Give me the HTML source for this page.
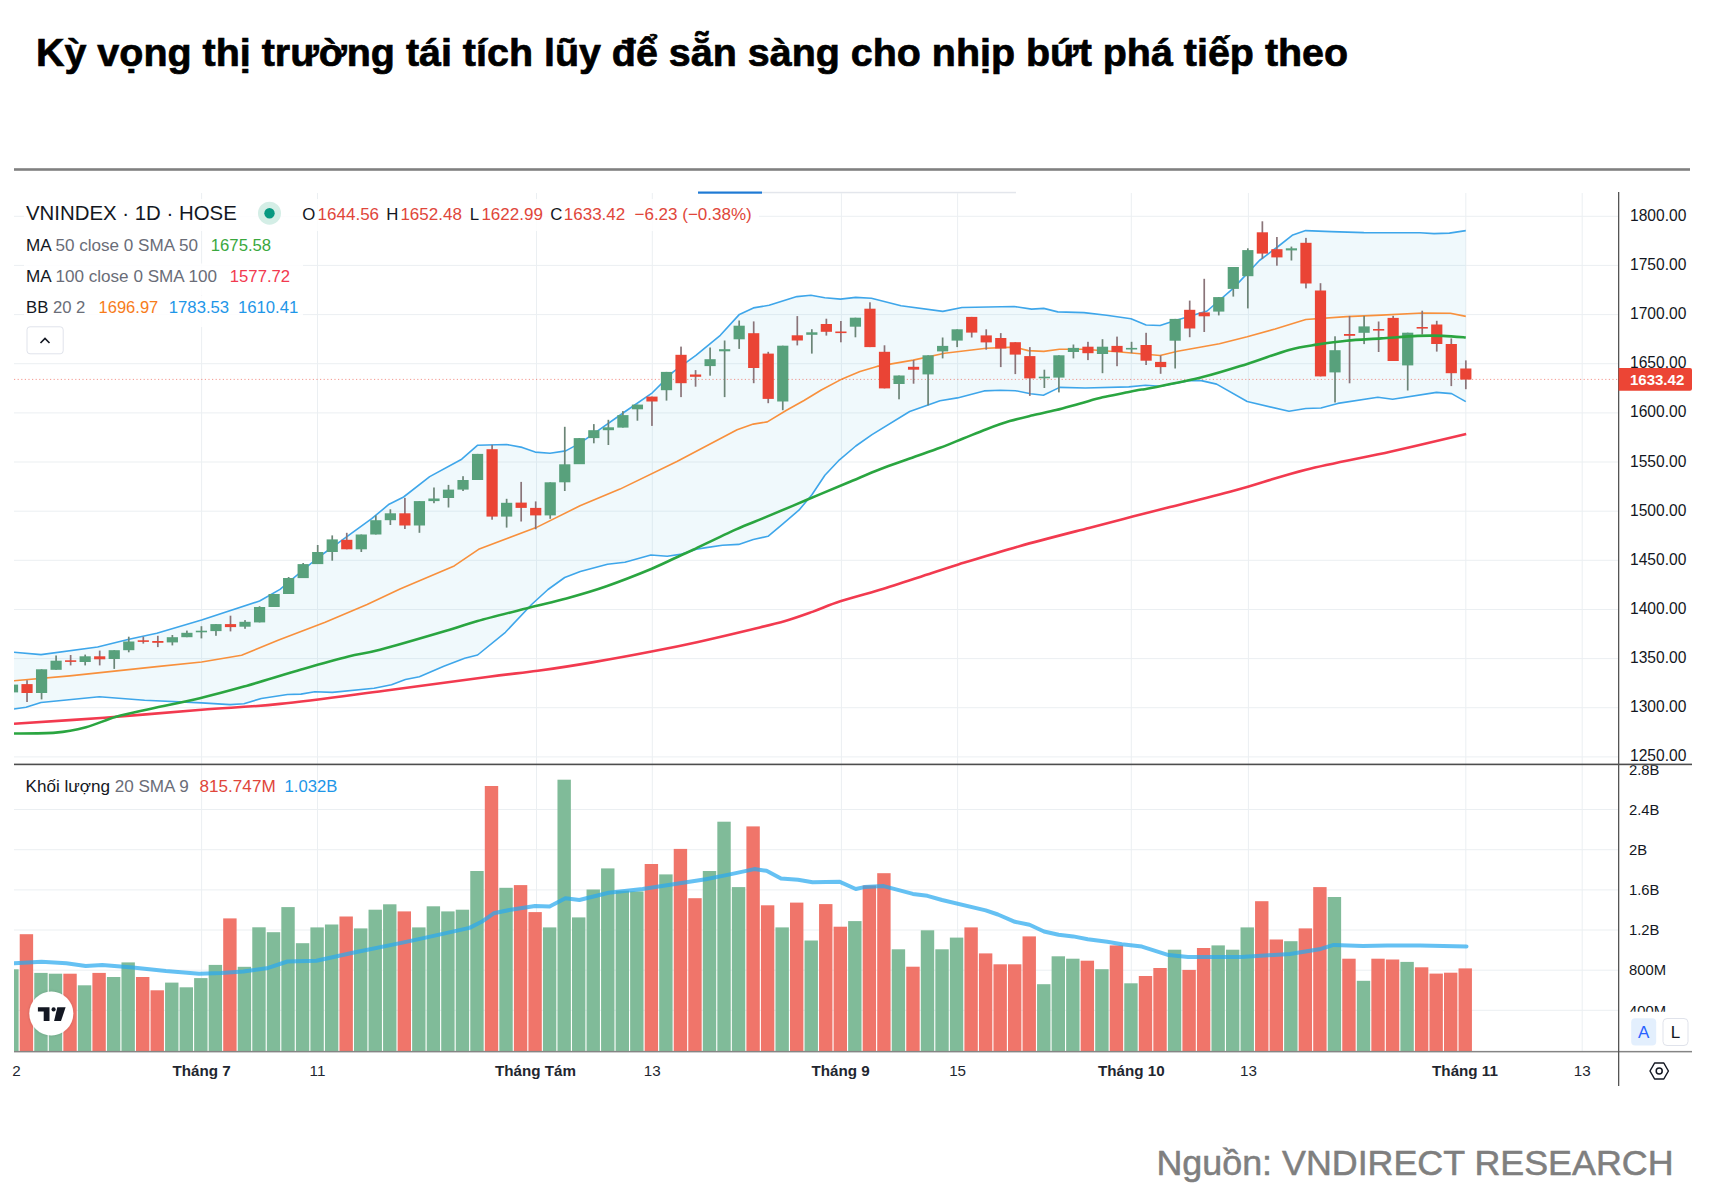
<!DOCTYPE html>
<html><head><meta charset="utf-8"><style>
html,body{margin:0;padding:0;background:#fff;width:1722px;height:1194px;overflow:hidden}
svg{display:block}
text{font-family:"Liberation Sans",sans-serif}
</style></head><body>
<svg width="1722" height="1194" viewBox="0 0 1722 1194">
<defs>
<clipPath id="cp"><rect x="14" y="192" width="1604.5" height="572"/></clipPath>
<clipPath id="cva"><rect x="1619" y="765.2" width="103" height="246.5"/></clipPath>
<clipPath id="cpa"><rect x="1619" y="192" width="103" height="571.6"/></clipPath>
<clipPath id="cv"><rect x="14" y="765" width="1604.5" height="286.5"/></clipPath>
<filter id="sh" x="-30%" y="-30%" width="160%" height="160%"><feDropShadow dx="0" dy="0" stdDeviation="1.5" flood-color="#000" flood-opacity="0.18"/></filter>
</defs>
<rect width="1722" height="1194" fill="#fff"/>

<text x="36" y="65.9" font-size="39.45" font-weight="bold" fill="#000" stroke="#000" stroke-width="0.7">Kỳ vọng thị trường tái tích lũy để sẵn sàng cho nhịp bứt phá tiếp theo</text>
<rect x="14" y="168.2" width="1676" height="2.6" fill="#808080"/>
<rect x="698" y="191.5" width="64" height="2.2" fill="#1f7ad4"/>
<rect x="762" y="191.8" width="254" height="1.5" fill="#e3e6ec"/>
<rect x="201.1" y="193" width="1" height="858.5" fill="#ebeff2"/>
<rect x="317.0" y="193" width="1" height="858.5" fill="#ebeff2"/>
<rect x="536.0" y="193" width="1" height="858.5" fill="#ebeff2"/>
<rect x="651.8" y="193" width="1" height="858.5" fill="#ebeff2"/>
<rect x="840.9" y="193" width="1" height="858.5" fill="#ebeff2"/>
<rect x="957.1" y="193" width="1" height="858.5" fill="#ebeff2"/>
<rect x="1130.8" y="193" width="1" height="858.5" fill="#ebeff2"/>
<rect x="1247.9" y="193" width="1" height="858.5" fill="#ebeff2"/>
<rect x="1465.3" y="193" width="1" height="858.5" fill="#ebeff2"/>
<rect x="1581.7" y="193" width="1" height="858.5" fill="#ebeff2"/>
<rect x="14" y="756.4" width="1604" height="1" fill="#ebeff2"/>
<rect x="14" y="707.2" width="1604" height="1" fill="#ebeff2"/>
<rect x="14" y="658.1" width="1604" height="1" fill="#ebeff2"/>
<rect x="14" y="609.0" width="1604" height="1" fill="#ebeff2"/>
<rect x="14" y="559.8" width="1604" height="1" fill="#ebeff2"/>
<rect x="14" y="510.7" width="1604" height="1" fill="#ebeff2"/>
<rect x="14" y="461.5" width="1604" height="1" fill="#ebeff2"/>
<rect x="14" y="412.4" width="1604" height="1" fill="#ebeff2"/>
<rect x="14" y="363.2" width="1604" height="1" fill="#ebeff2"/>
<rect x="14" y="314.1" width="1604" height="1" fill="#ebeff2"/>
<rect x="14" y="264.9" width="1604" height="1" fill="#ebeff2"/>
<rect x="14" y="215.8" width="1604" height="1" fill="#ebeff2"/>
<rect x="14" y="1009.8" width="1604" height="1" fill="#ebeff2"/>
<rect x="14" y="969.7" width="1604" height="1" fill="#ebeff2"/>
<rect x="14" y="929.5" width="1604" height="1" fill="#ebeff2"/>
<rect x="14" y="889.4" width="1604" height="1" fill="#ebeff2"/>
<rect x="14" y="849.2" width="1604" height="1" fill="#ebeff2"/>
<rect x="14" y="809.0" width="1604" height="1" fill="#ebeff2"/>
<g clip-path="url(#cp)">
<polygon points="14.0,652.3 41.0,654.6 97.6,647.0 129.0,639.3 156.8,633.2 201.6,620.1 259.6,601.0 280.0,589.4 317.5,558.0 346.2,537.1 371.7,518.7 389.1,504.2 403.6,497.0 429.7,476.6 461.7,459.2 477.7,445.2 506.5,444.5 522.2,447.4 535.2,452.1 550.0,453.2 565.7,450.9 580.0,443.1 594.8,432.9 624.5,412.0 652.3,392.8 673.2,371.9 695.9,355.3 720.3,335.3 739.4,314.4 753.4,307.9 769.1,305.3 796.9,296.6 810.9,295.2 824.8,297.8 840.5,299.1 855.7,297.4 871.4,298.3 901.0,305.8 942.8,311.4 962.0,307.5 1014.2,306.5 1031.6,309.1 1043.8,308.4 1057.8,311.9 1083.9,312.6 1106.6,315.2 1131.0,318.7 1146.1,325.0 1160.1,325.5 1172.3,321.5 1189.7,316.3 1207.1,311.0 1233.2,288.4 1259.4,260.5 1276.8,247.5 1292.8,234.9 1305.7,230.6 1331.3,231.6 1363.9,232.6 1420.0,232.8 1434.0,233.6 1449.4,233.1 1465.8,230.6 1465.8,401.6 1451.6,393.6 1436.5,392.4 1392.6,399.3 1377.8,397.3 1337.8,403.4 1320.9,408.0 1305.8,408.5 1289.0,411.3 1247.2,401.5 1216.6,384.1 1201.3,380.6 1188.7,380.6 1160.8,386.2 1145.5,385.2 1128.8,386.9 1085.2,388.0 1059.6,387.4 1043.4,395.2 1030.6,393.8 1015.5,390.7 1000.4,390.3 984.1,390.9 957.4,397.9 940.0,400.8 909.7,411.5 872.0,434.6 855.8,446.0 839.5,459.8 824.9,475.3 811.9,494.8 798.9,510.2 782.6,524.1 768.0,536.3 753.3,539.5 738.7,544.4 722.4,545.2 706.2,547.6 696.4,549.3 681.8,554.1 667.2,556.3 650.9,555.0 624.9,562.3 607.5,564.2 580.3,571.4 564.7,577.5 548.0,589.5 531.6,604.5 505.4,632.3 477.6,655.0 464.7,658.3 443.8,666.3 419.4,676.7 405.4,679.5 391.5,684.7 374.1,688.2 332.3,692.4 314.8,691.7 300.9,694.1 287.5,694.5 261.3,698.5 243.9,703.7 230.0,704.6 201.6,702.9 144.6,700.2 99.3,696.8 41.0,702.5 26.0,707.2 14.0,709.0" fill="#69c3e1" fill-opacity="0.1"/>
<polyline points="14.0,680.7 69.7,675.9 156.8,666.6 201.6,662.0 241.6,655.2 278.7,640.1 325.2,622.3 367.1,604.5 400.0,589.0 454.2,565.9 478.6,549.3 536.1,527.6 580.0,505.8 620.0,489.1 676.9,461.5 737.1,429.8 753.3,424.1 767.3,421.9 786.5,410.2 804.0,400.5 821.3,390.0 842.2,378.9 860.0,371.5 877.0,366.4 913.2,360.1 944.5,353.2 986.3,348.3 1014.2,347.1 1028.2,350.6 1043.8,351.4 1059.5,349.2 1083.9,349.3 1120.0,352.0 1160.1,355.5 1177.6,351.3 1219.4,343.7 1247.2,336.7 1275.1,329.0 1305.8,319.5 1346.5,316.6 1381.3,315.1 1422.7,313.0 1450.4,313.2 1465.8,316.4" fill="none" stroke="#f8903c" stroke-width="1.6" stroke-linejoin="round"/>
<polyline points="14.0,652.3 41.0,654.6 97.6,647.0 129.0,639.3 156.8,633.2 201.6,620.1 259.6,601.0 280.0,589.4 317.5,558.0 346.2,537.1 371.7,518.7 389.1,504.2 403.6,497.0 429.7,476.6 461.7,459.2 477.7,445.2 506.5,444.5 522.2,447.4 535.2,452.1 550.0,453.2 565.7,450.9 580.0,443.1 594.8,432.9 624.5,412.0 652.3,392.8 673.2,371.9 695.9,355.3 720.3,335.3 739.4,314.4 753.4,307.9 769.1,305.3 796.9,296.6 810.9,295.2 824.8,297.8 840.5,299.1 855.7,297.4 871.4,298.3 901.0,305.8 942.8,311.4 962.0,307.5 1014.2,306.5 1031.6,309.1 1043.8,308.4 1057.8,311.9 1083.9,312.6 1106.6,315.2 1131.0,318.7 1146.1,325.0 1160.1,325.5 1172.3,321.5 1189.7,316.3 1207.1,311.0 1233.2,288.4 1259.4,260.5 1276.8,247.5 1292.8,234.9 1305.7,230.6 1331.3,231.6 1363.9,232.6 1420.0,232.8 1434.0,233.6 1449.4,233.1 1465.8,230.6" fill="none" stroke="#3ea6ea" stroke-width="1.6" stroke-linejoin="round"/>
<polyline points="14.0,709.0 26.0,707.2 41.0,702.5 99.3,696.8 144.6,700.2 201.6,702.9 230.0,704.6 243.9,703.7 261.3,698.5 287.5,694.5 300.9,694.1 314.8,691.7 332.3,692.4 374.1,688.2 391.5,684.7 405.4,679.5 419.4,676.7 443.8,666.3 464.7,658.3 477.6,655.0 505.4,632.3 531.6,604.5 548.0,589.5 564.7,577.5 580.3,571.4 607.5,564.2 624.9,562.3 650.9,555.0 667.2,556.3 681.8,554.1 696.4,549.3 706.2,547.6 722.4,545.2 738.7,544.4 753.3,539.5 768.0,536.3 782.6,524.1 798.9,510.2 811.9,494.8 824.9,475.3 839.5,459.8 855.8,446.0 872.0,434.6 909.7,411.5 940.0,400.8 957.4,397.9 984.1,390.9 1000.4,390.3 1015.5,390.7 1030.6,393.8 1043.4,395.2 1059.6,387.4 1085.2,388.0 1128.8,386.9 1145.5,385.2 1160.8,386.2 1188.7,380.6 1201.3,380.6 1216.6,384.1 1247.2,401.5 1289.0,411.3 1305.8,408.5 1320.9,408.0 1337.8,403.4 1377.8,397.3 1392.6,399.3 1436.5,392.4 1451.6,393.6 1465.8,401.6" fill="none" stroke="#3ea6ea" stroke-width="1.6" stroke-linejoin="round"/>
<line x1="14" y1="379.4" x2="1618" y2="379.4" stroke="#ec4535" stroke-width="1" stroke-dasharray="1.2 2.4" stroke-opacity="0.55"/>
<rect x="11.65" y="681.0" width="1.7" height="14.0" fill="#6c8577"/>
<rect x="6.90" y="684.6" width="11.2" height="7.8" fill="#58a17c"/>
<rect x="26.18" y="680.2" width="1.7" height="21.8" fill="#8a7479"/>
<rect x="21.43" y="684.1" width="11.2" height="8.9" fill="#ea4435"/>
<rect x="40.72" y="669.3" width="1.7" height="30.1" fill="#6c8577"/>
<rect x="35.97" y="669.3" width="11.2" height="23.7" fill="#58a17c"/>
<rect x="55.25" y="655.5" width="1.7" height="14.3" fill="#6c8577"/>
<rect x="50.50" y="660.7" width="11.2" height="9.1" fill="#58a17c"/>
<rect x="69.78" y="655.0" width="1.7" height="10.4" fill="#8a7479"/>
<rect x="65.03" y="660.3" width="11.2" height="1.6" fill="#ea4435"/>
<rect x="84.32" y="654.6" width="1.7" height="10.8" fill="#6c8577"/>
<rect x="79.57" y="656.3" width="11.2" height="5.7" fill="#58a17c"/>
<rect x="98.85" y="650.6" width="1.7" height="14.8" fill="#8a7479"/>
<rect x="94.10" y="656.3" width="11.2" height="3.0" fill="#ea4435"/>
<rect x="113.38" y="650.2" width="1.7" height="18.7" fill="#6c8577"/>
<rect x="108.63" y="650.2" width="11.2" height="8.8" fill="#58a17c"/>
<rect x="127.92" y="636.7" width="1.7" height="15.6" fill="#6c8577"/>
<rect x="123.17" y="641.5" width="11.2" height="8.7" fill="#58a17c"/>
<rect x="142.45" y="636.7" width="1.7" height="6.9" fill="#8a7479"/>
<rect x="137.70" y="640.3" width="11.2" height="1.6" fill="#ea4435"/>
<rect x="156.98" y="635.8" width="1.7" height="11.3" fill="#8a7479"/>
<rect x="152.23" y="641.0" width="11.2" height="1.8" fill="#ea4435"/>
<rect x="171.52" y="635.0" width="1.7" height="10.4" fill="#6c8577"/>
<rect x="166.77" y="637.2" width="11.2" height="5.2" fill="#58a17c"/>
<rect x="186.05" y="630.6" width="1.7" height="6.6" fill="#6c8577"/>
<rect x="181.30" y="632.8" width="11.2" height="4.4" fill="#58a17c"/>
<rect x="200.58" y="626.2" width="1.7" height="12.2" fill="#6c8577"/>
<rect x="195.83" y="630.7" width="11.2" height="1.6" fill="#58a17c"/>
<rect x="215.12" y="624.1" width="1.7" height="11.7" fill="#6c8577"/>
<rect x="210.37" y="624.1" width="11.2" height="7.0" fill="#58a17c"/>
<rect x="229.65" y="615.7" width="1.7" height="15.7" fill="#8a7479"/>
<rect x="224.90" y="624.1" width="11.2" height="3.0" fill="#ea4435"/>
<rect x="244.18" y="620.1" width="1.7" height="8.7" fill="#6c8577"/>
<rect x="239.43" y="621.8" width="11.2" height="4.9" fill="#58a17c"/>
<rect x="258.72" y="606.2" width="1.7" height="16.2" fill="#6c8577"/>
<rect x="253.97" y="607.0" width="11.2" height="15.4" fill="#58a17c"/>
<rect x="273.25" y="594.0" width="1.7" height="13.0" fill="#6c8577"/>
<rect x="268.50" y="594.0" width="11.2" height="13.0" fill="#58a17c"/>
<rect x="287.78" y="577.0" width="1.7" height="17.0" fill="#6c8577"/>
<rect x="283.03" y="578.0" width="11.2" height="16.0" fill="#58a17c"/>
<rect x="302.32" y="563.0" width="1.7" height="15.0" fill="#6c8577"/>
<rect x="297.57" y="564.1" width="11.2" height="14.0" fill="#58a17c"/>
<rect x="316.85" y="545.0" width="1.7" height="19.0" fill="#6c8577"/>
<rect x="312.10" y="552.0" width="11.2" height="12.1" fill="#58a17c"/>
<rect x="331.38" y="535.4" width="1.7" height="25.3" fill="#6c8577"/>
<rect x="326.63" y="539.4" width="11.2" height="12.6" fill="#58a17c"/>
<rect x="345.92" y="532.8" width="1.7" height="16.5" fill="#8a7479"/>
<rect x="341.17" y="539.8" width="11.2" height="9.5" fill="#ea4435"/>
<rect x="360.45" y="534.5" width="1.7" height="17.5" fill="#6c8577"/>
<rect x="355.70" y="534.5" width="11.2" height="14.8" fill="#58a17c"/>
<rect x="374.98" y="515.4" width="1.7" height="19.1" fill="#6c8577"/>
<rect x="370.23" y="520.2" width="11.2" height="14.3" fill="#58a17c"/>
<rect x="389.52" y="509.3" width="1.7" height="15.7" fill="#6c8577"/>
<rect x="384.77" y="513.3" width="11.2" height="6.9" fill="#58a17c"/>
<rect x="404.05" y="497.9" width="1.7" height="31.1" fill="#8a7479"/>
<rect x="399.30" y="513.3" width="11.2" height="12.2" fill="#ea4435"/>
<rect x="418.58" y="501.1" width="1.7" height="31.7" fill="#6c8577"/>
<rect x="413.83" y="501.1" width="11.2" height="24.4" fill="#58a17c"/>
<rect x="433.12" y="487.5" width="1.7" height="15.7" fill="#6c8577"/>
<rect x="428.37" y="498.5" width="11.2" height="2.6" fill="#58a17c"/>
<rect x="447.65" y="484.9" width="1.7" height="22.6" fill="#6c8577"/>
<rect x="442.90" y="489.6" width="11.2" height="8.4" fill="#58a17c"/>
<rect x="462.18" y="476.2" width="1.7" height="14.8" fill="#6c8577"/>
<rect x="457.43" y="480.0" width="11.2" height="9.6" fill="#58a17c"/>
<rect x="476.72" y="453.9" width="1.7" height="26.1" fill="#6c8577"/>
<rect x="471.97" y="453.9" width="11.2" height="26.1" fill="#58a17c"/>
<rect x="491.25" y="444.8" width="1.7" height="74.9" fill="#8a7479"/>
<rect x="486.50" y="449.2" width="11.2" height="67.4" fill="#ea4435"/>
<rect x="505.78" y="498.8" width="1.7" height="28.8" fill="#6c8577"/>
<rect x="501.03" y="502.8" width="11.2" height="13.8" fill="#58a17c"/>
<rect x="520.32" y="481.9" width="1.7" height="39.6" fill="#8a7479"/>
<rect x="515.57" y="502.6" width="11.2" height="5.3" fill="#ea4435"/>
<rect x="534.85" y="501.4" width="1.7" height="27.9" fill="#8a7479"/>
<rect x="530.10" y="507.9" width="11.2" height="7.5" fill="#ea4435"/>
<rect x="549.38" y="482.3" width="1.7" height="36.5" fill="#6c8577"/>
<rect x="544.63" y="482.3" width="11.2" height="33.1" fill="#58a17c"/>
<rect x="563.92" y="426.8" width="1.7" height="64.2" fill="#6c8577"/>
<rect x="559.17" y="464.3" width="11.2" height="18.0" fill="#58a17c"/>
<rect x="578.45" y="438.0" width="1.7" height="26.0" fill="#6c8577"/>
<rect x="573.70" y="438.1" width="11.2" height="26.1" fill="#58a17c"/>
<rect x="592.98" y="424.1" width="1.7" height="19.2" fill="#6c8577"/>
<rect x="588.23" y="430.2" width="11.2" height="7.9" fill="#58a17c"/>
<rect x="607.52" y="419.8" width="1.7" height="25.2" fill="#6c8577"/>
<rect x="602.77" y="427.3" width="11.2" height="2.9" fill="#58a17c"/>
<rect x="622.05" y="411.1" width="1.7" height="16.5" fill="#6c8577"/>
<rect x="617.30" y="415.1" width="11.2" height="12.5" fill="#58a17c"/>
<rect x="636.58" y="404.6" width="1.7" height="16.1" fill="#6c8577"/>
<rect x="631.83" y="404.6" width="11.2" height="4.7" fill="#58a17c"/>
<rect x="651.12" y="396.6" width="1.7" height="29.3" fill="#8a7479"/>
<rect x="646.37" y="396.6" width="11.2" height="4.9" fill="#ea4435"/>
<rect x="665.65" y="371.9" width="1.7" height="28.7" fill="#6c8577"/>
<rect x="660.90" y="371.9" width="11.2" height="18.3" fill="#58a17c"/>
<rect x="680.18" y="346.6" width="1.7" height="50.5" fill="#8a7479"/>
<rect x="675.43" y="354.8" width="11.2" height="28.4" fill="#ea4435"/>
<rect x="694.72" y="370.1" width="1.7" height="16.6" fill="#8a7479"/>
<rect x="689.97" y="374.5" width="11.2" height="2.3" fill="#ea4435"/>
<rect x="709.25" y="347.5" width="1.7" height="28.2" fill="#6c8577"/>
<rect x="704.50" y="359.2" width="11.2" height="6.9" fill="#58a17c"/>
<rect x="723.78" y="340.5" width="1.7" height="56.6" fill="#6c8577"/>
<rect x="719.03" y="349.2" width="11.2" height="2.1" fill="#58a17c"/>
<rect x="738.32" y="320.5" width="1.7" height="28.4" fill="#6c8577"/>
<rect x="733.57" y="325.7" width="11.2" height="13.6" fill="#58a17c"/>
<rect x="752.85" y="321.4" width="1.7" height="61.8" fill="#8a7479"/>
<rect x="748.10" y="333.2" width="11.2" height="34.8" fill="#ea4435"/>
<rect x="767.38" y="351.8" width="1.7" height="51.4" fill="#8a7479"/>
<rect x="762.63" y="353.6" width="11.2" height="45.3" fill="#ea4435"/>
<rect x="781.91" y="345.7" width="1.7" height="64.5" fill="#6c8577"/>
<rect x="777.16" y="345.7" width="11.2" height="55.8" fill="#58a17c"/>
<rect x="796.45" y="316.1" width="1.7" height="29.3" fill="#8a7479"/>
<rect x="791.70" y="335.3" width="11.2" height="5.2" fill="#ea4435"/>
<rect x="810.98" y="329.2" width="1.7" height="24.4" fill="#6c8577"/>
<rect x="806.23" y="332.3" width="11.2" height="2.5" fill="#58a17c"/>
<rect x="825.51" y="318.7" width="1.7" height="16.9" fill="#8a7479"/>
<rect x="820.76" y="324.0" width="11.2" height="7.8" fill="#ea4435"/>
<rect x="840.05" y="321.0" width="1.7" height="21.3" fill="#8a7479"/>
<rect x="835.30" y="331.5" width="11.2" height="1.6" fill="#ea4435"/>
<rect x="854.58" y="317.7" width="1.7" height="19.6" fill="#6c8577"/>
<rect x="849.83" y="317.7" width="11.2" height="9.0" fill="#58a17c"/>
<rect x="869.11" y="302.3" width="1.7" height="44.8" fill="#8a7479"/>
<rect x="864.36" y="308.7" width="11.2" height="38.4" fill="#ea4435"/>
<rect x="883.65" y="345.3" width="1.7" height="43.1" fill="#8a7479"/>
<rect x="878.90" y="351.8" width="11.2" height="36.6" fill="#ea4435"/>
<rect x="898.18" y="375.5" width="1.7" height="23.8" fill="#6c8577"/>
<rect x="893.43" y="375.5" width="11.2" height="8.5" fill="#58a17c"/>
<rect x="912.71" y="360.1" width="1.7" height="23.6" fill="#8a7479"/>
<rect x="907.96" y="366.8" width="11.2" height="2.9" fill="#ea4435"/>
<rect x="927.25" y="355.3" width="1.7" height="50.1" fill="#6c8577"/>
<rect x="922.50" y="355.3" width="11.2" height="19.1" fill="#58a17c"/>
<rect x="941.78" y="337.5" width="1.7" height="20.9" fill="#6c8577"/>
<rect x="937.03" y="345.9" width="11.2" height="5.5" fill="#58a17c"/>
<rect x="956.31" y="329.3" width="1.7" height="17.8" fill="#6c8577"/>
<rect x="951.56" y="329.3" width="11.2" height="11.3" fill="#58a17c"/>
<rect x="970.85" y="316.9" width="1.7" height="20.6" fill="#8a7479"/>
<rect x="966.10" y="316.9" width="11.2" height="15.7" fill="#ea4435"/>
<rect x="985.38" y="329.3" width="1.7" height="20.4" fill="#8a7479"/>
<rect x="980.63" y="335.4" width="11.2" height="7.0" fill="#ea4435"/>
<rect x="999.91" y="333.1" width="1.7" height="34.0" fill="#8a7479"/>
<rect x="995.16" y="338.0" width="11.2" height="10.5" fill="#ea4435"/>
<rect x="1014.45" y="342.2" width="1.7" height="31.9" fill="#8a7479"/>
<rect x="1009.70" y="342.2" width="11.2" height="12.4" fill="#ea4435"/>
<rect x="1028.98" y="347.1" width="1.7" height="48.8" fill="#8a7479"/>
<rect x="1024.23" y="356.1" width="11.2" height="22.3" fill="#ea4435"/>
<rect x="1043.51" y="369.7" width="1.7" height="18.3" fill="#6c8577"/>
<rect x="1038.76" y="376.7" width="11.2" height="1.6" fill="#58a17c"/>
<rect x="1058.05" y="355.3" width="1.7" height="37.1" fill="#6c8577"/>
<rect x="1053.30" y="355.3" width="11.2" height="22.3" fill="#58a17c"/>
<rect x="1072.58" y="344.5" width="1.7" height="13.9" fill="#6c8577"/>
<rect x="1067.83" y="347.9" width="11.2" height="4.1" fill="#58a17c"/>
<rect x="1087.11" y="341.8" width="1.7" height="18.3" fill="#8a7479"/>
<rect x="1082.36" y="346.7" width="11.2" height="6.5" fill="#ea4435"/>
<rect x="1101.65" y="339.2" width="1.7" height="34.0" fill="#6c8577"/>
<rect x="1096.90" y="346.7" width="11.2" height="7.3" fill="#58a17c"/>
<rect x="1116.18" y="336.6" width="1.7" height="29.6" fill="#8a7479"/>
<rect x="1111.43" y="345.9" width="11.2" height="6.1" fill="#ea4435"/>
<rect x="1130.71" y="341.8" width="1.7" height="11.4" fill="#6c8577"/>
<rect x="1125.96" y="347.9" width="11.2" height="1.6" fill="#58a17c"/>
<rect x="1145.25" y="332.8" width="1.7" height="32.2" fill="#8a7479"/>
<rect x="1140.50" y="345.0" width="11.2" height="15.7" fill="#ea4435"/>
<rect x="1159.78" y="355.5" width="1.7" height="18.3" fill="#8a7479"/>
<rect x="1155.03" y="361.9" width="11.2" height="5.2" fill="#ea4435"/>
<rect x="1174.31" y="318.9" width="1.7" height="49.6" fill="#6c8577"/>
<rect x="1169.56" y="318.9" width="11.2" height="21.8" fill="#58a17c"/>
<rect x="1188.85" y="300.6" width="1.7" height="36.6" fill="#8a7479"/>
<rect x="1184.10" y="309.8" width="11.2" height="18.7" fill="#ea4435"/>
<rect x="1203.38" y="278.8" width="1.7" height="53.2" fill="#8a7479"/>
<rect x="1198.63" y="312.4" width="11.2" height="3.9" fill="#ea4435"/>
<rect x="1217.91" y="297.1" width="1.7" height="18.3" fill="#6c8577"/>
<rect x="1213.16" y="297.1" width="11.2" height="14.5" fill="#58a17c"/>
<rect x="1232.45" y="267.0" width="1.7" height="29.6" fill="#6c8577"/>
<rect x="1227.70" y="267.0" width="11.2" height="21.9" fill="#58a17c"/>
<rect x="1246.98" y="248.3" width="1.7" height="60.1" fill="#6c8577"/>
<rect x="1242.23" y="250.1" width="11.2" height="26.1" fill="#58a17c"/>
<rect x="1261.51" y="221.3" width="1.7" height="37.5" fill="#8a7479"/>
<rect x="1256.76" y="232.3" width="11.2" height="21.3" fill="#ea4435"/>
<rect x="1276.05" y="237.0" width="1.7" height="28.7" fill="#8a7479"/>
<rect x="1271.30" y="249.2" width="11.2" height="8.2" fill="#ea4435"/>
<rect x="1290.58" y="246.6" width="1.7" height="13.9" fill="#6c8577"/>
<rect x="1285.83" y="248.3" width="11.2" height="2.1" fill="#58a17c"/>
<rect x="1305.11" y="237.9" width="1.7" height="50.5" fill="#8a7479"/>
<rect x="1300.36" y="242.8" width="11.2" height="40.7" fill="#ea4435"/>
<rect x="1319.65" y="283.2" width="1.7" height="93.2" fill="#8a7479"/>
<rect x="1314.90" y="290.5" width="11.2" height="85.9" fill="#ea4435"/>
<rect x="1334.18" y="336.3" width="1.7" height="66.2" fill="#6c8577"/>
<rect x="1329.43" y="350.2" width="11.2" height="22.2" fill="#58a17c"/>
<rect x="1348.71" y="315.9" width="1.7" height="67.4" fill="#8a7479"/>
<rect x="1343.96" y="334.0" width="11.2" height="1.8" fill="#ea4435"/>
<rect x="1363.25" y="315.9" width="1.7" height="28.2" fill="#6c8577"/>
<rect x="1358.50" y="326.4" width="11.2" height="6.4" fill="#58a17c"/>
<rect x="1377.78" y="321.5" width="1.7" height="30.5" fill="#8a7479"/>
<rect x="1373.03" y="329.0" width="11.2" height="1.6" fill="#ea4435"/>
<rect x="1392.31" y="315.8" width="1.7" height="45.2" fill="#8a7479"/>
<rect x="1387.56" y="317.9" width="11.2" height="43.1" fill="#ea4435"/>
<rect x="1406.85" y="332.7" width="1.7" height="57.8" fill="#6c8577"/>
<rect x="1402.10" y="332.7" width="11.2" height="32.7" fill="#58a17c"/>
<rect x="1421.38" y="310.7" width="1.7" height="23.9" fill="#8a7479"/>
<rect x="1416.63" y="327.0" width="11.2" height="1.6" fill="#ea4435"/>
<rect x="1435.91" y="320.8" width="1.7" height="30.8" fill="#8a7479"/>
<rect x="1431.16" y="324.5" width="11.2" height="19.5" fill="#ea4435"/>
<rect x="1450.45" y="338.4" width="1.7" height="47.7" fill="#8a7479"/>
<rect x="1445.70" y="344.0" width="11.2" height="29.2" fill="#ea4435"/>
<rect x="1464.98" y="360.4" width="1.7" height="28.8" fill="#8a7479"/>
<rect x="1460.23" y="368.5" width="11.2" height="11.1" fill="#ea4435"/>
<path d="M14.0,723.8 C29.1,722.8 73.2,720.0 104.5,717.7 C135.8,715.4 172.3,712.1 201.6,709.8 C230.8,707.5 249.5,707.1 280.0,703.9 C310.5,700.7 349.7,695.2 384.5,690.7 C419.3,686.2 463.4,680.0 489.0,676.7 C514.5,673.4 520.4,673.2 537.8,670.8 C555.2,668.4 574.4,665.4 593.6,662.1 C612.8,658.9 635.4,654.7 652.8,651.3 C670.2,647.9 681.8,645.5 698.1,641.9 C714.4,638.3 735.9,633.2 750.4,629.7 C764.9,626.2 774.8,624.0 785.2,621.0 C795.7,618.0 803.9,614.9 813.1,611.6 C822.3,608.3 829.1,604.9 840.3,601.3 C851.4,597.7 864.7,594.5 880.0,589.8 C895.3,585.1 918.9,577.2 932.0,573.0 C945.1,568.8 943.8,569.0 958.4,564.5 C973.0,560.0 997.6,552.3 1019.4,546.2 C1041.2,540.1 1070.1,532.8 1089.0,527.9 C1107.9,523.0 1119.1,520.1 1132.6,516.6 C1146.1,513.1 1153.0,511.4 1170.0,507.1 C1187.0,502.8 1211.8,496.8 1234.5,490.6 C1257.2,484.4 1279.8,476.2 1305.9,469.7 C1332.0,463.2 1364.6,457.4 1391.3,451.4 C1418.0,445.4 1453.7,436.8 1466.2,433.9" fill="none" stroke="#f23a4f" stroke-width="2.6" stroke-linejoin="round"/>
<path d="M14.0,733.5 C20.9,733.4 43.7,733.6 55.7,732.6 C67.7,731.6 75.9,729.8 86.0,727.2 C96.1,724.6 105.3,719.9 116.1,716.8 C126.9,713.7 137.1,711.8 151.0,708.7 C164.9,705.6 184.3,701.9 199.8,698.2 C215.3,694.5 226.9,691.4 243.9,686.6 C260.9,681.8 284.6,674.2 302.0,669.2 C319.4,664.2 335.4,659.6 348.4,656.4 C361.4,653.2 363.1,654.2 380.0,649.8 C396.9,645.3 433.4,634.5 449.7,629.7 C466.0,624.9 464.5,624.6 477.6,621.0 C490.7,617.4 513.3,611.7 528.1,607.9 C542.9,604.1 553.3,602.0 566.4,598.4 C579.5,594.8 592.3,591.2 606.5,586.2 C620.7,581.2 639.5,573.8 651.8,568.7 C664.0,563.6 673.1,558.9 680.0,555.7 C686.9,552.6 684.0,554.1 693.2,549.8 C702.5,545.4 723.3,535.1 735.5,529.6 C747.7,524.1 754.4,521.9 766.3,516.9 C778.2,511.9 793.5,505.5 807.0,499.8 C820.5,494.1 835.4,487.9 847.6,482.8 C859.8,477.7 869.6,473.2 880.0,469.2 C890.4,465.1 899.7,462.1 909.7,458.5 C919.7,454.9 931.1,451.1 940.0,447.8 C948.9,444.5 955.5,441.6 963.2,438.5 C971.0,435.4 978.8,432.1 986.5,429.2 C994.2,426.3 1002.0,423.4 1009.7,421.1 C1017.4,418.8 1025.2,417.1 1032.9,415.3 C1040.6,413.5 1048.3,412.0 1056.1,410.1 C1063.8,408.2 1071.7,405.8 1079.4,403.7 C1087.2,401.6 1094.9,399.1 1102.6,397.3 C1110.3,395.5 1119.6,393.9 1125.8,392.6 C1132.0,391.3 1136.0,390.4 1140.0,389.7 C1144.0,389.0 1139.3,390.4 1149.7,388.3 C1160.1,386.2 1186.3,381.2 1202.6,377.1 C1218.8,373.0 1232.8,368.4 1247.2,363.9 C1261.6,359.4 1277.4,353.1 1289.0,349.9 C1300.6,346.7 1307.3,346.1 1316.9,344.6 C1326.5,343.1 1335.8,341.7 1346.5,340.7 C1357.2,339.7 1369.4,339.2 1381.3,338.4 C1393.2,337.6 1407.5,336.3 1417.7,335.9 C1428.0,335.5 1434.8,335.6 1442.8,335.9 C1450.8,336.2 1462.0,337.2 1465.8,337.5" fill="none" stroke="#2aa540" stroke-width="2.6" stroke-linejoin="round"/>
</g>
<g clip-path="url(#cv)">
<rect x="5.20" y="969.3" width="13.4" height="82.4" fill="#80bb99"/>
<rect x="19.73" y="934.2" width="13.4" height="117.5" fill="#f0756a"/>
<rect x="34.27" y="972.9" width="13.4" height="78.8" fill="#80bb99"/>
<rect x="48.80" y="973.7" width="13.4" height="78.0" fill="#80bb99"/>
<rect x="63.33" y="973.7" width="13.4" height="78.0" fill="#f0756a"/>
<rect x="77.87" y="985.3" width="13.4" height="66.4" fill="#80bb99"/>
<rect x="92.40" y="972.9" width="13.4" height="78.8" fill="#f0756a"/>
<rect x="106.93" y="977.0" width="13.4" height="74.7" fill="#80bb99"/>
<rect x="121.47" y="962.4" width="13.4" height="89.3" fill="#80bb99"/>
<rect x="136.00" y="977.0" width="13.4" height="74.7" fill="#f0756a"/>
<rect x="150.53" y="990.3" width="13.4" height="61.4" fill="#f0756a"/>
<rect x="165.07" y="982.6" width="13.4" height="69.1" fill="#80bb99"/>
<rect x="179.60" y="987.3" width="13.4" height="64.4" fill="#80bb99"/>
<rect x="194.13" y="978.1" width="13.4" height="73.6" fill="#80bb99"/>
<rect x="208.67" y="964.9" width="13.4" height="86.8" fill="#80bb99"/>
<rect x="223.20" y="918.4" width="13.4" height="133.3" fill="#f0756a"/>
<rect x="237.73" y="966.8" width="13.4" height="84.9" fill="#80bb99"/>
<rect x="252.27" y="927.3" width="13.4" height="124.4" fill="#80bb99"/>
<rect x="266.80" y="932.2" width="13.4" height="119.5" fill="#80bb99"/>
<rect x="281.33" y="907.1" width="13.4" height="144.6" fill="#80bb99"/>
<rect x="295.87" y="943.2" width="13.4" height="108.5" fill="#80bb99"/>
<rect x="310.40" y="927.4" width="13.4" height="124.3" fill="#80bb99"/>
<rect x="324.93" y="924.5" width="13.4" height="127.2" fill="#80bb99"/>
<rect x="339.47" y="916.5" width="13.4" height="135.2" fill="#f0756a"/>
<rect x="354.00" y="928.4" width="13.4" height="123.3" fill="#80bb99"/>
<rect x="368.53" y="909.7" width="13.4" height="142.0" fill="#80bb99"/>
<rect x="383.07" y="904.3" width="13.4" height="147.4" fill="#80bb99"/>
<rect x="397.60" y="911.4" width="13.4" height="140.3" fill="#f0756a"/>
<rect x="412.13" y="927.4" width="13.4" height="124.3" fill="#80bb99"/>
<rect x="426.67" y="906.3" width="13.4" height="145.4" fill="#80bb99"/>
<rect x="441.20" y="911.4" width="13.4" height="140.3" fill="#80bb99"/>
<rect x="455.73" y="909.7" width="13.4" height="142.0" fill="#80bb99"/>
<rect x="470.27" y="871.0" width="13.4" height="180.7" fill="#80bb99"/>
<rect x="484.80" y="786.0" width="13.4" height="265.7" fill="#f0756a"/>
<rect x="499.33" y="887.8" width="13.4" height="163.9" fill="#80bb99"/>
<rect x="513.87" y="885.1" width="13.4" height="166.6" fill="#f0756a"/>
<rect x="528.40" y="912.1" width="13.4" height="139.6" fill="#f0756a"/>
<rect x="542.93" y="927.4" width="13.4" height="124.3" fill="#80bb99"/>
<rect x="557.47" y="779.7" width="13.4" height="272.0" fill="#80bb99"/>
<rect x="572.00" y="917.4" width="13.4" height="134.3" fill="#80bb99"/>
<rect x="586.53" y="889.5" width="13.4" height="162.2" fill="#80bb99"/>
<rect x="601.07" y="868.4" width="13.4" height="183.3" fill="#80bb99"/>
<rect x="615.60" y="890.7" width="13.4" height="161.0" fill="#80bb99"/>
<rect x="630.13" y="891.4" width="13.4" height="160.3" fill="#80bb99"/>
<rect x="644.67" y="864.0" width="13.4" height="187.7" fill="#f0756a"/>
<rect x="659.20" y="874.4" width="13.4" height="177.3" fill="#80bb99"/>
<rect x="673.73" y="848.9" width="13.4" height="202.8" fill="#f0756a"/>
<rect x="688.27" y="898.2" width="13.4" height="153.5" fill="#f0756a"/>
<rect x="702.80" y="871.0" width="13.4" height="180.7" fill="#80bb99"/>
<rect x="717.33" y="821.7" width="13.4" height="230.0" fill="#80bb99"/>
<rect x="731.87" y="887.1" width="13.4" height="164.6" fill="#80bb99"/>
<rect x="746.40" y="826.4" width="13.4" height="225.3" fill="#f0756a"/>
<rect x="760.93" y="905.3" width="13.4" height="146.4" fill="#f0756a"/>
<rect x="775.46" y="927.4" width="13.4" height="124.3" fill="#80bb99"/>
<rect x="790.00" y="902.6" width="13.4" height="149.1" fill="#f0756a"/>
<rect x="804.53" y="940.5" width="13.4" height="111.2" fill="#80bb99"/>
<rect x="819.06" y="904.1" width="13.4" height="147.6" fill="#f0756a"/>
<rect x="833.60" y="926.7" width="13.4" height="125.0" fill="#f0756a"/>
<rect x="848.13" y="921.1" width="13.4" height="130.6" fill="#80bb99"/>
<rect x="862.66" y="885.4" width="13.4" height="166.3" fill="#f0756a"/>
<rect x="877.20" y="873.2" width="13.4" height="178.5" fill="#f0756a"/>
<rect x="891.73" y="949.3" width="13.4" height="102.4" fill="#80bb99"/>
<rect x="906.26" y="966.7" width="13.4" height="85.0" fill="#f0756a"/>
<rect x="920.80" y="930.3" width="13.4" height="121.4" fill="#80bb99"/>
<rect x="935.33" y="949.3" width="13.4" height="102.4" fill="#80bb99"/>
<rect x="949.86" y="937.6" width="13.4" height="114.1" fill="#80bb99"/>
<rect x="964.40" y="927.4" width="13.4" height="124.3" fill="#f0756a"/>
<rect x="978.93" y="953.4" width="13.4" height="98.3" fill="#f0756a"/>
<rect x="993.46" y="964.3" width="13.4" height="87.4" fill="#f0756a"/>
<rect x="1008.00" y="964.3" width="13.4" height="87.4" fill="#f0756a"/>
<rect x="1022.53" y="936.4" width="13.4" height="115.3" fill="#f0756a"/>
<rect x="1037.06" y="984.2" width="13.4" height="67.5" fill="#80bb99"/>
<rect x="1051.60" y="956.3" width="13.4" height="95.4" fill="#80bb99"/>
<rect x="1066.13" y="958.7" width="13.4" height="93.0" fill="#80bb99"/>
<rect x="1080.66" y="960.7" width="13.4" height="91.0" fill="#f0756a"/>
<rect x="1095.20" y="969.2" width="13.4" height="82.5" fill="#80bb99"/>
<rect x="1109.73" y="945.4" width="13.4" height="106.3" fill="#f0756a"/>
<rect x="1124.26" y="983.3" width="13.4" height="68.4" fill="#80bb99"/>
<rect x="1138.80" y="976.0" width="13.4" height="75.7" fill="#f0756a"/>
<rect x="1153.33" y="968.0" width="13.4" height="83.7" fill="#f0756a"/>
<rect x="1167.86" y="949.7" width="13.4" height="102.0" fill="#80bb99"/>
<rect x="1182.40" y="969.9" width="13.4" height="81.8" fill="#f0756a"/>
<rect x="1196.93" y="948.0" width="13.4" height="103.7" fill="#f0756a"/>
<rect x="1211.46" y="945.4" width="13.4" height="106.3" fill="#80bb99"/>
<rect x="1226.00" y="949.7" width="13.4" height="102.0" fill="#80bb99"/>
<rect x="1240.53" y="927.4" width="13.4" height="124.3" fill="#80bb99"/>
<rect x="1255.06" y="901.2" width="13.4" height="150.5" fill="#f0756a"/>
<rect x="1269.60" y="939.5" width="13.4" height="112.2" fill="#f0756a"/>
<rect x="1284.13" y="941.2" width="13.4" height="110.5" fill="#80bb99"/>
<rect x="1298.66" y="928.4" width="13.4" height="123.3" fill="#f0756a"/>
<rect x="1313.20" y="887.1" width="13.4" height="164.6" fill="#f0756a"/>
<rect x="1327.73" y="897.0" width="13.4" height="154.7" fill="#80bb99"/>
<rect x="1342.26" y="958.7" width="13.4" height="93.0" fill="#f0756a"/>
<rect x="1356.80" y="980.8" width="13.4" height="70.9" fill="#80bb99"/>
<rect x="1371.33" y="958.7" width="13.4" height="93.0" fill="#f0756a"/>
<rect x="1385.86" y="959.5" width="13.4" height="92.2" fill="#f0756a"/>
<rect x="1400.40" y="961.9" width="13.4" height="89.8" fill="#80bb99"/>
<rect x="1414.93" y="967.3" width="13.4" height="84.4" fill="#f0756a"/>
<rect x="1429.46" y="973.6" width="13.4" height="78.1" fill="#f0756a"/>
<rect x="1444.00" y="972.7" width="13.4" height="79.0" fill="#f0756a"/>
<rect x="1458.53" y="968.4" width="13.4" height="83.3" fill="#f0756a"/>
<polyline points="14.4,963.2 41.5,961.8 66.4,963.2 85.7,966.0 102.3,965.1 132.7,967.4 165.9,971.0 199.1,973.7 221.2,972.9 243.3,971.5 268.2,967.9 287.5,961.5 316.4,960.7 352.9,952.7 401.4,942.9 425.7,937.6 469.5,927.9 481.6,921.8 493.7,913.3 510.8,909.7 535.0,906.0 549.6,906.5 565.4,898.2 579.4,900.0 608.6,892.7 642.6,889.0 681.4,883.0 705.7,879.3 730.0,874.4 754.3,869.1 766.5,870.8 781.0,878.6 798.0,879.8 812.6,882.2 839.3,881.7 855.8,889.0 864.3,887.1 883.7,886.1 912.9,893.9 927.4,895.8 942.0,900.0 985.7,910.4 997.9,914.5 1014.9,921.8 1029.5,924.7 1044.0,931.5 1058.6,934.7 1073.2,936.4 1087.8,939.3 1107.2,941.7 1121.8,944.2 1141.9,946.6 1168.6,955.1 1188.0,957.0 1241.4,957.0 1290.0,953.9 1319.2,949.3 1333.7,944.9 1362.9,946.1 1387.2,945.4 1420.0,945.4 1466.5,946.4" fill="none" stroke="#29a9ef" stroke-opacity="0.72" stroke-width="4" stroke-linejoin="round" stroke-linecap="round"/>
</g>
<rect x="14" y="763.6" width="1678" height="1.6" fill="#4d4d4d"/>
<rect x="14" y="1050.9" width="1678" height="1.5" fill="#858585"/>
<rect x="1618" y="192" width="1.3" height="894" fill="#555"/>
<g clip-path="url(#cpa)">
<text x="1630" y="761.4" font-size="15.6" fill="#131722">1250.00</text>
<text x="1630" y="712.2" font-size="15.6" fill="#131722">1300.00</text>
<text x="1630" y="663.1" font-size="15.6" fill="#131722">1350.00</text>
<text x="1630" y="614.0" font-size="15.6" fill="#131722">1400.00</text>
<text x="1630" y="564.8" font-size="15.6" fill="#131722">1450.00</text>
<text x="1630" y="515.7" font-size="15.6" fill="#131722">1500.00</text>
<text x="1630" y="466.5" font-size="15.6" fill="#131722">1550.00</text>
<text x="1630" y="417.4" font-size="15.6" fill="#131722">1600.00</text>
<text x="1630" y="368.2" font-size="15.6" fill="#131722">1650.00</text>
<text x="1630" y="319.1" font-size="15.6" fill="#131722">1700.00</text>
<text x="1630" y="269.9" font-size="15.6" fill="#131722">1750.00</text>
<text x="1630" y="220.8" font-size="15.6" fill="#131722">1800.00</text>
</g>
<g clip-path="url(#cva)">
<text x="1629" y="774.6" font-size="14.8" fill="#131722">2.8B</text>
<text x="1629" y="814.7" font-size="14.8" fill="#131722">2.4B</text>
<text x="1629" y="854.9" font-size="14.8" fill="#131722">2B</text>
<text x="1629" y="895.1" font-size="14.8" fill="#131722">1.6B</text>
<text x="1629" y="935.2" font-size="14.8" fill="#131722">1.2B</text>
<text x="1629" y="975.4" font-size="14.8" fill="#131722">800M</text>
<text x="1629" y="1015.5" font-size="14.8" fill="#131722">400M</text>
</g>
<path d="M1618.6,368 H1690 a2,2 0 0 1 2,2 V388.7 a2,2 0 0 1 -2,2 H1618.6 Z" fill="#ec4535"/>
<text x="1630" y="384.8" font-size="15" font-weight="bold" fill="#fff">1633.42</text>
<text x="16.5" y="1076" font-size="15.2" text-anchor="middle" fill="#22262f">2</text>
<text x="201.6" y="1076" font-size="15.2" text-anchor="middle" fill="#22262f" font-weight="bold">Tháng 7</text>
<text x="317.5" y="1076" font-size="15.2" text-anchor="middle" fill="#22262f">11</text>
<text x="535.5" y="1076" font-size="15.2" text-anchor="middle" fill="#22262f" font-weight="bold">Tháng Tám</text>
<text x="652.3" y="1076" font-size="15.2" text-anchor="middle" fill="#22262f">13</text>
<text x="840.5" y="1076" font-size="15.2" text-anchor="middle" fill="#22262f" font-weight="bold">Tháng 9</text>
<text x="957.6" y="1076" font-size="15.2" text-anchor="middle" fill="#22262f">15</text>
<text x="1131.3" y="1076" font-size="15.2" text-anchor="middle" fill="#22262f" font-weight="bold">Tháng 10</text>
<text x="1248.4" y="1076" font-size="15.2" text-anchor="middle" fill="#22262f">13</text>
<text x="1465.0" y="1076" font-size="15.2" text-anchor="middle" fill="#22262f" font-weight="bold">Tháng 11</text>
<text x="1582.2" y="1076" font-size="15.2" text-anchor="middle" fill="#22262f">13</text>
<rect x="1631.2" y="1018.2" width="25" height="27.2" rx="4" fill="#e3effd"/>
<text x="1643.7" y="1038" font-size="17" text-anchor="middle" fill="#2962ff">A</text>
<rect x="1663" y="1018.5" width="25" height="27" rx="4" fill="#fff" stroke="#e0e3eb" stroke-width="1"/>
<text x="1675.5" y="1038" font-size="17" text-anchor="middle" fill="#131722">L</text>
<path d="M1650,1071 L1654.6,1063 H1663.8 L1668.4,1071 L1663.8,1079 H1654.6 Z" fill="none" stroke="#131722" stroke-width="1.5" stroke-linejoin="round"/>
<circle cx="1659.2" cy="1071" r="3" fill="none" stroke="#131722" stroke-width="1.5"/>
<circle cx="51.3" cy="1013.5" r="22" fill="#fff" filter="url(#sh)"/>
<path d="M37.9,1007.3 H49.5 V1021.1 H43.7 V1011.5 H37.9 Z" fill="#131722"/>
<circle cx="53.6" cy="1009.4" r="2.1" fill="#131722"/>
<path d="M57.3,1007.3 H65.6 L61,1021.1 H54.1 Z" fill="#131722"/>
<g>
<rect x="24" y="199" width="735" height="32" fill="#fff" fill-opacity="0.85"/>
<rect x="24" y="263.5" width="279" height="32" fill="#fff" fill-opacity="0.85"/>
<rect x="24" y="296" width="279" height="31" fill="#fff" fill-opacity="0.85"/>
<text x="26" y="220.2" font-size="20.4" fill="#131722">VNINDEX · 1D · HOSE</text>
<circle cx="269.5" cy="213.2" r="11.5" fill="#d4eee6"/>
<circle cx="269.5" cy="213.2" r="5.2" fill="#089981"/>
<text x="302.2" y="220.2" font-size="16.8" fill="#131722">O</text>
<text x="317.6" y="220.2" font-size="17" fill="#e0463a">1644.56</text>
<text x="386.2" y="220.2" font-size="16.8" fill="#131722">H</text>
<text x="400.4" y="220.2" font-size="17" fill="#e0463a">1652.48</text>
<text x="469.7" y="220.2" font-size="16.8" fill="#131722">L</text>
<text x="481.4" y="220.2" font-size="17" fill="#e0463a">1622.99</text>
<text x="550.2" y="220.2" font-size="16.8" fill="#131722">C</text>
<text x="563.8" y="220.2" font-size="17" fill="#e0463a">1633.42</text>
<text x="634.5" y="220.2" font-size="17" fill="#e0463a">−6.23 (−0.38%)</text>
<text x="26" y="250.6" font-size="17.1" fill="#6a6d78"><tspan fill="#131722">MA</tspan> 50 close 0 SMA 50</text>
<text x="210.8" y="250.6" font-size="16.7" fill="#3aa83e">1675.58</text>
<text x="26" y="282.4" font-size="17.1" fill="#6a6d78"><tspan fill="#131722">MA</tspan> 100 close 0 SMA 100</text>
<text x="229.8" y="282.4" font-size="16.7" fill="#f23a4f">1577.72</text>
<text x="26" y="313.4" font-size="16.7" fill="#6a6d78"><tspan fill="#131722">BB</tspan> 20 2</text>
<text x="98.6" y="313.4" font-size="16.5" fill="#f77c1a">1696.97</text>
<text x="168.8" y="313.4" font-size="16.7" fill="#1e96e8">1783.53</text>
<text x="237.9" y="313.4" font-size="16.7" fill="#1e96e8">1610.41</text>
<rect x="27" y="326.8" width="36.2" height="27" rx="3" fill="#fff" stroke="#e0e3eb" stroke-width="1"/>
<path d="M40.5,343 L45,338.5 L49.5,343" fill="none" stroke="#131722" stroke-width="1.6"/>
<text x="25.5" y="792" font-size="17.1" fill="#6a6d78"><tspan fill="#131722">Khối lượng</tspan> 20 SMA 9</text>
<text x="199.6" y="792" font-size="17.1" fill="#e0463a">815.747M</text>
<text x="284.5" y="792" font-size="16.7" fill="#1e96e8">1.032B</text>
</g>
<text x="1156.5" y="1175" font-size="35.85" fill="#7f7f7f" stroke="#7f7f7f" stroke-width="0.55">Nguồn: VNDIRECT RESEARCH</text>
</svg></body></html>
